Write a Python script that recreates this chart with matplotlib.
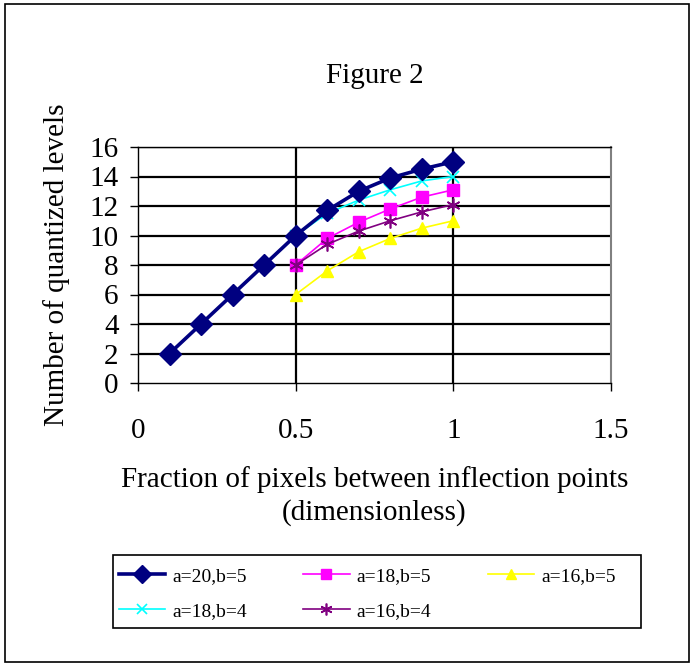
import matplotlib.pyplot as plt
from matplotlib.patches import Rectangle

plt.rcParams['font.family'] = ['Liberation Serif', 'DejaVu Serif']

# Daten
x_a20b5 = [0.1, 0.2, 0.3, 0.4, 0.5, 0.6, 0.7, 0.8, 0.9, 1.0]
y_a20b5 = [2, 4, 6, 8, 10, 11.7, 13.0, 13.9, 14.5, 15.0]

x_short = [0.5, 0.6, 0.7, 0.8, 0.9, 1.0]
y_a18b5 = [8, 9.8, 10.9, 11.8, 12.6, 13.1]
y_a16b5 = [6, 7.6, 8.9, 9.8, 10.5, 11.0]
y_a18b4 = [10, 11.5, 12.4, 13.1, 13.7, 14.0]
y_a16b4 = [8, 9.4, 10.3, 11.0, 11.6, 12.1]

x_ticks = [0, 0.5, 1, 1.5]
x_ticklabels = ['0', '0.5', '1', '1.5']
y_ticks = [0, 2, 4, 6, 8, 10, 12, 14, 16]

W, H = 691, 665
fig = plt.figure(figsize=(W / 100, H / 100), dpi=100)
ax = fig.add_axes([138 / W, 1 - 383 / H, 473 / W, 236 / H])

# Rahmen um die ganze Figur
fig.patches.append(Rectangle((5 / W, 3 / H), 684 / W, 658 / H,
                             transform=fig.transFigure, fill=False,
                             edgecolor='black', linewidth=1.2))
# Rahmen der Legende
fig.patches.append(Rectangle((113 / W, 1 - 628 / H), 528 / W, 73 / H,
                             transform=fig.transFigure, fill=False,
                             edgecolor='black', linewidth=1.2))

# Gitterlinien (wie Excel)
for yv in y_ticks[1:]:
    ax.axhline(yv, color='black', linewidth=1.6, zorder=1)
for xv in [0.5, 1.0]:
    ax.axvline(xv, color='black', linewidth=1.6, zorder=1)

ax.plot(x_a20b5, y_a20b5, color='#000080', linewidth=2.6, marker='D',
        markersize=11, label='a=20,b=5', zorder=5)
ax.plot(x_short, y_a18b5, color='#FF00FF', linewidth=1.2, marker='s',
        markersize=8, label='a=18,b=5', zorder=4)
ax.plot(x_short, y_a16b5, color='#FFFF00', linewidth=1.2, marker='^',
        markersize=9, label='a=16,b=5', zorder=4)
ax.plot(x_short, y_a18b4, color='#00FFFF', linewidth=1.2, marker='x',
        markersize=9, markeredgewidth=1.2, label='a=18,b=4', zorder=4)
ax.plot(x_short, y_a16b4, color='#800080', linewidth=1.2, marker=(6, 2, 0),
        markersize=10, markeredgewidth=1.2, label='a=16,b=4', zorder=4)

ax.set_xlim(0, 1.5)
ax.set_ylim(0, 16)
ax.set_xticks(x_ticks)
ax.set_xticklabels(x_ticklabels)
ax.set_yticks(y_ticks)
ax.tick_params(axis='both', direction='out', length=6, width=1,
               labelsize=21)
ax.tick_params(axis='y', pad=8)
ax.tick_params(axis='x', pad=19)

for side in ['left', 'bottom', 'top']:
    ax.spines[side].set_color('black')
    ax.spines[side].set_linewidth(1.0)
ax.spines['right'].set_color('gray')
ax.spines['right'].set_linewidth(1.5)

ax.set_title('Figure 2', fontsize=21, pad=46)
ax.set_ylabel('Number of quantized levels', fontsize=21)
ax.yaxis.set_label_coords(-0.144, 0.5)
ax.set_xlabel('Fraction of pixels between inflection points\n(dimensionless)',
              fontsize=21, linespacing=1.3)
ax.xaxis.set_label_coords(0.5, -0.35)

# Legende unten in drei Spalten
h, l = ax.get_legend_handles_labels()
order = [0, 3, 1, 4, 2]
leg = fig.legend([h[i] for i in order], [l[i] for i in order],
                 loc='upper left', bbox_to_anchor=(102 / W, 1 - 551 / H),
                 ncol=3, fontsize=14, frameon=False,
                 handlelength=2.4, columnspacing=2.9,
                 borderpad=0.35, labelspacing=0.9, handletextpad=0.35)
for lh in leg.legend_handles:
    lh.set_markersize(lh.get_markersize() * 0.85)

fig.savefig('out.png', dpi=100)
